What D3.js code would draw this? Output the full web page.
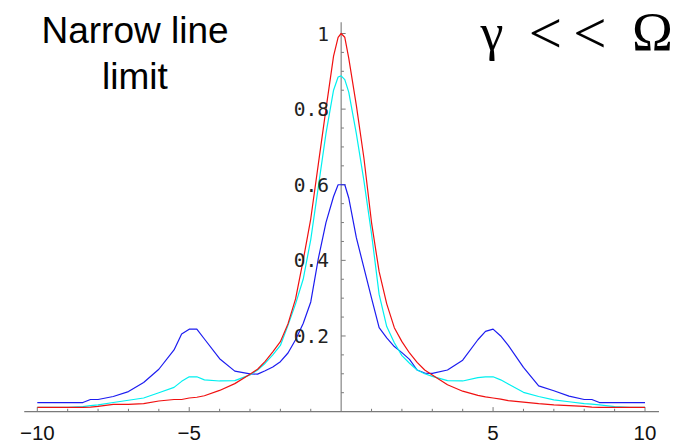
<!DOCTYPE html>
<html>
<head>
<meta charset="utf-8">
<script src="https://cdn.jsdelivr.net/npm/d3@7"></script>
<style>
  html, body { margin: 0; padding: 0; background: #fff; }
  svg { display: block; }
</style>
</head>
<body>
<svg id="chart" width="676" height="443"></svg>
<script>
// Detuning grid shared by all three spectra
const detuning = [-10, -9.5, -9, -8.5, -8.25, -8, -7.5, -7, -6.5, -6, -5.5, -5.25, -5, -4.75, -4.5, -4,
  -3.5, -3, -2.75, -2.5, -2.25, -2, -1.75, -1.5, -1.25, -1, -0.75, -0.5, -0.25, -0.1, 0,
  0.12, 0.25, 0.5, 0.75, 1, 1.25, 1.5, 1.75, 2, 2.25, 2.5, 2.75, 3, 3.5, 4, 4.5, 4.75, 5,
  5.25, 5.5, 6, 6.5, 7, 7.5, 8, 8.25, 8.5, 9, 9.5, 10];

// Single central line (no sidebands)
const redSpectrum = [0.011, 0.011, 0.011, 0.011, 0.012, 0.014, 0.019, 0.019, 0.021, 0.028, 0.032, 0.032, 0.036, 0.038, 0.042, 0.056,
  0.074, 0.099, 0.112, 0.133, 0.158, 0.185, 0.232, 0.298, 0.40, 0.51, 0.655, 0.80, 0.94, 0.99, 1.0,
  0.99, 0.935, 0.81, 0.67, 0.50, 0.37, 0.285, 0.222, 0.185, 0.155, 0.13, 0.11, 0.097, 0.071, 0.054, 0.043, 0.039, 0.036,
  0.033, 0.029, 0.025, 0.021, 0.018, 0.016, 0.014, 0.012, 0.011, 0.011, 0.011, 0.011];

// Weak modulation: small sidebands at ±5
const cyanSpectrum = [0.011, 0.011, 0.011, 0.013, 0.016, 0.018, 0.024, 0.030, 0.036, 0.050, 0.064, 0.080, 0.092, 0.092, 0.084, 0.081,
  0.082, 0.097, 0.110, 0.128, 0.150, 0.175, 0.228, 0.285, 0.350, 0.455, 0.595, 0.735, 0.85, 0.885, 0.888,
  0.878, 0.845, 0.735, 0.61, 0.47, 0.31, 0.225, 0.182, 0.148, 0.128, 0.11, 0.10, 0.093, 0.082, 0.081, 0.09, 0.092, 0.092,
  0.084, 0.073, 0.051, 0.040, 0.031, 0.026, 0.021, 0.020, 0.018, 0.013, 0.011, 0.011];

// Strong modulation: pronounced sidebands at ±5
const blueSpectrum = [0.024, 0.024, 0.024, 0.024, 0.032, 0.032, 0.040, 0.053, 0.077, 0.112, 0.163, 0.205, 0.218, 0.218, 0.192, 0.140,
  0.107, 0.100, 0.099, 0.108, 0.118, 0.132, 0.155, 0.19, 0.233, 0.29, 0.405, 0.50, 0.569, 0.60, 0.60,
  0.60, 0.565, 0.46, 0.38, 0.30, 0.222, 0.195, 0.172, 0.156, 0.138, 0.11, 0.102, 0.101, 0.110, 0.136, 0.19, 0.212, 0.218,
  0.20, 0.175, 0.117, 0.068, 0.055, 0.041, 0.032, 0.032, 0.024, 0.024, 0.024, 0.024];

const xMajorTicks = [-10, -5, 5, 10];
const xMinorTicks = [-9, -8, -7, -6, -4, -3, -2, -1, 1, 2, 3, 4, 6, 7, 8, 9];
const yMajorTicks = [0.2, 0.4, 0.6, 0.8, 1];
const yMinorTicks = [0.05, 0.1, 0.15, 0.25, 0.3, 0.35, 0.45, 0.5, 0.55, 0.65, 0.7, 0.75, 0.85, 0.9, 0.95];
const xTickLabels = ["\u221210", "\u22125", "5", "10"];
const yTickLabels = ["0.2", "0.4", "0.6", "0.8", "1"];

const series = [
  { values: blueSpectrum, color: "#1c1cf0" },
  { values: cyanSpectrum, color: "#00f0f0" },
  { values: redSpectrum, color: "#f01010" }
];

const svg = d3.select("#chart");
const x = d3.scaleLinear().domain([-10, 10]).range([37.3, 645]);
const y = d3.scaleLinear().domain([0, 1]).range([411.6, 33.5]);

const axisColor = "#7a7a7a";

// Axes crossing at the origin
svg.append("line")
  .attr("x1", x(-10.43)).attr("x2", x(10.46))
  .attr("y1", y(0)).attr("y2", y(0))
  .attr("stroke", axisColor).attr("stroke-width", 1.1);
svg.append("line")
  .attr("x1", x(0)).attr("x2", x(0))
  .attr("y1", y(0)).attr("y2", y(1.03))
  .attr("stroke", axisColor).attr("stroke-width", 1.1);

// x ticks point upward
svg.selectAll("line.xmaj").data(xMajorTicks).join("line")
  .attr("x1", d => x(d)).attr("x2", d => x(d))
  .attr("y1", y(0)).attr("y2", y(0) - 4.5)
  .attr("stroke", axisColor).attr("stroke-width", 1);
svg.selectAll("line.xmin").data(xMinorTicks).join("line")
  .attr("x1", d => x(d)).attr("x2", d => x(d))
  .attr("y1", y(0)).attr("y2", y(0) - 2.8)
  .attr("stroke", axisColor).attr("stroke-width", 1);

// y ticks point right
svg.selectAll("line.ymaj").data(yMajorTicks).join("line")
  .attr("x1", x(0)).attr("x2", x(0) + 4.5)
  .attr("y1", d => y(d)).attr("y2", d => y(d))
  .attr("stroke", axisColor).attr("stroke-width", 1);
svg.selectAll("line.ymin").data(yMinorTicks).join("line")
  .attr("x1", x(0)).attr("x2", x(0) + 2.8)
  .attr("y1", d => y(d)).attr("y2", d => y(d))
  .attr("stroke", axisColor).attr("stroke-width", 1);

// Spectra
const line = d3.line()
  .x((d, i) => x(detuning[i]))
  .y(d => y(d));
svg.selectAll("path.spec").data(series).join("path")
  .attr("d", s => line(s.values))
  .attr("fill", "none")
  .attr("stroke", s => s.color)
  .attr("stroke-width", 1.2)
  .attr("stroke-linejoin", "round");

// Tick labels
svg.selectAll("text.xl").data(xMajorTicks).join("text")
  .attr("x", d => x(d)).attr("y", 440)
  .attr("text-anchor", "middle")
  .attr("font-family", "Liberation Sans, Arial, sans-serif")
  .attr("font-size", 20.5)
  .attr("fill", "#111")
  .text((d, i) => xTickLabels[i]);

svg.selectAll("text.yl").data(yMajorTicks).join("text")
  .attr("x", 329).attr("y", d => y(d))
  .attr("dy", "0.36em")
  .attr("text-anchor", "end")
  .attr("font-family", "DejaVu Sans Mono, monospace")
  .attr("font-size", 19.5)
  .attr("fill", "#222")
  .text((d, i) => yTickLabels[i]);

// Title
const title = svg.append("text")
  .attr("text-anchor", "middle")
  .attr("font-family", "Liberation Sans, Arial, sans-serif")
  .attr("font-size", 37)
  .attr("fill", "#000");
title.append("tspan").attr("x", 135).attr("y", 43.3).text("Narrow line");
title.append("tspan").attr("x", 135).attr("y", 89.3).text("limit");

// Regime condition
const serif = "Liberation Serif, Times New Roman, serif";
svg.append("text").attr("x", 492).attr("y", 50).attr("text-anchor", "middle")
  .attr("font-family", serif).attr("font-size", 52).text("\u03B3");
svg.append("text").attr("x", 545.5).attr("y", 53).attr("text-anchor", "middle")
  .attr("font-family", serif).attr("font-size", 59).text("<");
svg.append("text").attr("x", 590).attr("y", 53).attr("text-anchor", "middle")
  .attr("font-family", serif).attr("font-size", 59).text("<");
svg.append("text").attr("x", 652.5).attr("y", 50).attr("text-anchor", "middle")
  .attr("font-family", serif).attr("font-size", 55).text("\u03A9");
</script>
</body>
</html>
